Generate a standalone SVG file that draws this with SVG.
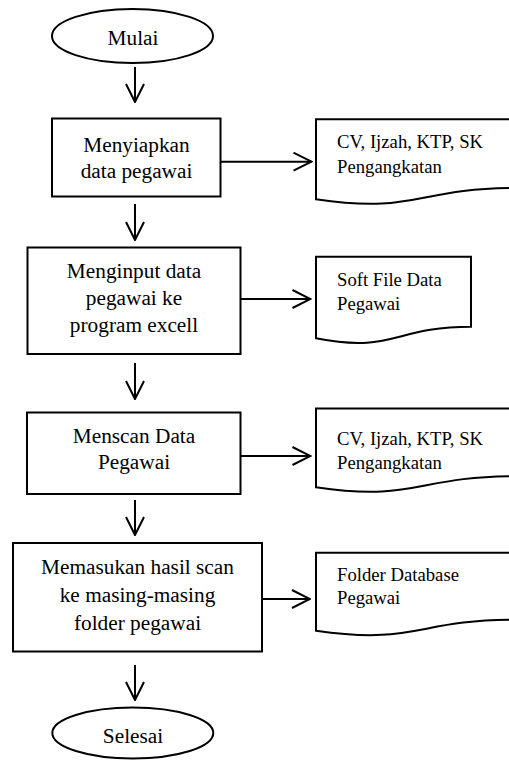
<svg xmlns="http://www.w3.org/2000/svg" width="509" height="760" viewBox="0 0 509 760">
  <style>
    .shape { fill: #ffffff; stroke: #000000; stroke-width: 2; }
    .edge { fill: none; stroke: #000000; stroke-width: 2; }
    .label { font-family: "Liberation Serif", "Times New Roman", serif; font-size: 21.3px; fill: #000000; text-anchor: middle; }
    .doc-label { font-family: "Liberation Serif", "Times New Roman", serif; font-size: 18.7px; fill: #000000; }
  </style>
  <defs>
    <marker id="open-arrow" viewBox="0 0 20 20" refX="19" refY="10" markerWidth="20" markerHeight="20" markerUnits="userSpaceOnUse" orient="auto">
      <path d="M1,1 L19,10 L1,19" fill="none" stroke="#000000" stroke-width="2"/>
    </marker>
  </defs>
  <rect width="509" height="760" fill="#ffffff"/>

  <!-- terminator: start -->
  <g id="mulai">
    <ellipse class="shape" cx="132.5" cy="36" rx="80.5" ry="27"/>
    <text class="label" x="133" y="44.5">Mulai</text>
  </g>

  <!-- process steps -->
  <g id="menyiapkan">
    <rect class="shape" x="52" y="118.5" width="168.5" height="78"/>
    <text class="label" x="136.5" y="151.7">Menyiapkan</text>
    <text class="label" x="136.5" y="178.3">data pegawai</text>
  </g>

  <g id="menginput">
    <rect class="shape" x="27.5" y="247.5" width="213" height="106.5"/>
    <text class="label" x="134" y="278.3">Menginput data</text>
    <text class="label" x="134" y="305">pegawai ke</text>
    <text class="label" x="134" y="332">program excell</text>
  </g>

  <g id="menscan">
    <rect class="shape" x="27" y="412.5" width="213.5" height="81.5"/>
    <text class="label" x="134" y="443.3">Menscan Data</text>
    <text class="label" x="134" y="469.3">Pegawai</text>
  </g>

  <g id="memasukan">
    <rect class="shape" x="13" y="543" width="249" height="108.5"/>
    <text class="label" x="137.5" y="573.5">Memasukan hasil scan</text>
    <text class="label" x="137.5" y="602">ke masing-masing</text>
    <text class="label" x="137.5" y="630">folder pegawai</text>
  </g>

  <!-- terminator: end -->
  <g id="selesai">
    <ellipse class="shape" cx="132.8" cy="733" rx="80.5" ry="25.5"/>
    <text class="label" x="133" y="743.3">Selesai</text>
  </g>

  <!-- document outputs -->
  <g id="doc-berkas-1">
    <path class="shape" d="M316,119.3 H516 V188 C416,188 416,214.2 316,199.3 Z"/>
    <text class="doc-label" x="337" y="147.7">CV, Ijzah, KTP, SK</text>
    <text class="doc-label" x="337" y="172.7">Pengangkatan</text>
  </g>

  <g id="doc-soft-file">
    <path class="shape" d="M316,256.7 H471 V326.8 C393.5,326.8 393.5,353.5 316,338.3 Z"/>
    <text class="doc-label" x="337" y="286">Soft File Data</text>
    <text class="doc-label" x="337" y="310">Pegawai</text>
  </g>

  <g id="doc-berkas-2">
    <path class="shape" d="M316,408.5 H516 V476.2 C416,476.2 416,502 316,487.3 Z"/>
    <text class="doc-label" x="337" y="444.5">CV, Ijzah, KTP, SK</text>
    <text class="doc-label" x="337" y="469.3">Pengangkatan</text>
  </g>

  <g id="doc-folder">
    <path class="shape" d="M316,552.7 H516 V619.7 C416,619.7 416,645.2 316,630.7 Z"/>
    <text class="doc-label" x="337" y="580.7">Folder Database</text>
    <text class="doc-label" x="337" y="604">Pegawai</text>
  </g>

  <!-- connectors -->
  <g id="connectors">
    <line class="edge" x1="135" y1="67" x2="135" y2="102" marker-end="url(#open-arrow)"/>
    <line class="edge" x1="135" y1="204" x2="135" y2="240" marker-end="url(#open-arrow)"/>
    <line class="edge" x1="135" y1="363" x2="135" y2="399" marker-end="url(#open-arrow)"/>
    <line class="edge" x1="135" y1="500" x2="135" y2="535" marker-end="url(#open-arrow)"/>
    <line class="edge" x1="135" y1="665" x2="135" y2="700" marker-end="url(#open-arrow)"/>

    <line class="edge" x1="220.5" y1="161.7" x2="311.5" y2="161.7" marker-end="url(#open-arrow)"/>
    <line class="edge" x1="240.5" y1="299" x2="310.5" y2="299" marker-end="url(#open-arrow)"/>
    <line class="edge" x1="240.5" y1="456" x2="310.5" y2="456" marker-end="url(#open-arrow)"/>
    <line class="edge" x1="262" y1="599" x2="310" y2="599" marker-end="url(#open-arrow)"/>
  </g>
</svg>
